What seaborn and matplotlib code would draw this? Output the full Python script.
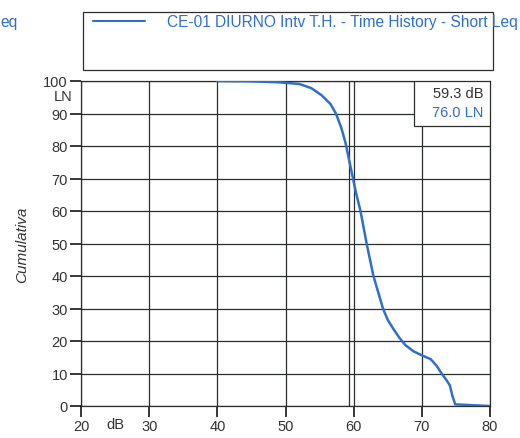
import matplotlib
matplotlib.use("Agg")
import matplotlib.pyplot as plt
from matplotlib.lines import Line2D
from matplotlib.patches import Rectangle
import pandas as pd
import seaborn as sns

# cumulative distribution
level_db = [40, 45, 49, 52, 53.8, 55.3, 56.6, 57.4, 58.2, 58.8, 59.3, 59.8, 60.3, 61.0,
            61.9, 62.9, 64.3, 65.0, 65.8, 66.7, 67.6, 68.8, 70.0, 71.3, 72.2, 72.9,
            73.6, 74.1, 74.5, 74.9, 80]
cumulative = [100, 99.9, 99.6, 99.1, 97.8, 95.6, 92.9, 90.0, 85.5, 81.0, 76.0, 71.0, 66.0, 60.0,
              50.0, 40.0, 30.0, 26.5, 23.8, 21.0, 18.7, 16.8, 15.6, 14.4, 12.3, 10.0,
              8.0, 6.4, 3.0, 0.5, 0]
x_ticks = [20, 30, 40, 50, 60, 70, 80]
y_ticks = [0, 10, 20, 30, 40, 50, 60, 70, 80, 90, 100]
marker_db = 59.3
marker_ln = 76.0
series_name = "CE-01 DIURNO Intv T.H. - Time History - Short Leq"

blue = "#2f6fc9"
grid_col = "#2b2f2b"
txt_col = "#333333"

sns.set_style("ticks")
plt.rcParams["font.family"] = ["Liberation Sans", "DejaVu Sans"]

df = pd.DataFrame({"dB": level_db, "cum": cumulative})

fig = plt.figure(figsize=(5.2, 4.39), dpi=100)
ax = fig.add_axes([81 / 520, 1 - 407 / 439, 409 / 520, 325 / 439])

sns.lineplot(data=df, x="dB", y="cum", color=blue, linewidth=1.8, ax=ax, zorder=5)

ax.set_xlim(20, 80)
ax.set_ylim(0, 100)
ax.set_xticks(x_ticks)
ax.set_yticks(y_ticks)
ax.grid(True, color=grid_col, linewidth=0.9)
ax.tick_params(axis="both", direction="out", length=8, width=1.1, color="black",
               labelsize=10.5, labelcolor=txt_col, pad=1.5)
for s in ax.spines.values():
    s.set_visible(True)
    s.set_color(grid_col)
    s.set_linewidth(0.9)
ax.set_xlabel("")
ax.set_ylabel("Cumulativa", fontstyle="italic", fontsize=11, color=txt_col, labelpad=10)

# Lx marker line
ax.axvline(marker_db, color=grid_col, linewidth=0.9)

# LN / dB unit labels
ax.text(-0.022, 0.955, "LN", transform=ax.transAxes, ha="right", va="center",
        fontsize=10.5, color=txt_col)
ax.text(0.085, -0.035, "dB", transform=ax.transAxes, ha="center", va="top",
        fontsize=10.5, color=txt_col)

# readout box in top right corner
ax.add_patch(Rectangle((0.813, 0.862), 0.187, 0.138, transform=ax.transAxes,
                       facecolor="white", edgecolor=grid_col, linewidth=0.9, zorder=6))
ax.text(0.985, 0.962, f"{marker_db:.1f} dB", transform=ax.transAxes, ha="right",
        va="center", fontsize=10.5, color=txt_col, zorder=7)
ax.text(0.985, 0.905, f"{marker_ln:.1f} LN", transform=ax.transAxes, ha="right",
        va="center", fontsize=10.5, color=blue, zorder=7)

# legend box at top
fig.patches.append(Rectangle((83 / 520, 1 - 71 / 439), 410 / 520, 58 / 439,
                             transform=fig.transFigure, facecolor="none",
                             edgecolor=grid_col, linewidth=0.9))
fig.lines.append(Line2D([93 / 520, 145 / 520], [1 - 22 / 439, 1 - 22 / 439],
                        transform=fig.transFigure, color=blue, linewidth=1.5))
fig.text(167 / 520, 1 - 22 / 439, series_name, ha="left", va="center",
         fontsize=11.2, color=blue)
fig.text(0.0, 1 - 22 / 439, "eq", ha="left", va="center", fontsize=11.2, color=blue)

fig.savefig("out.png", dpi=100)
